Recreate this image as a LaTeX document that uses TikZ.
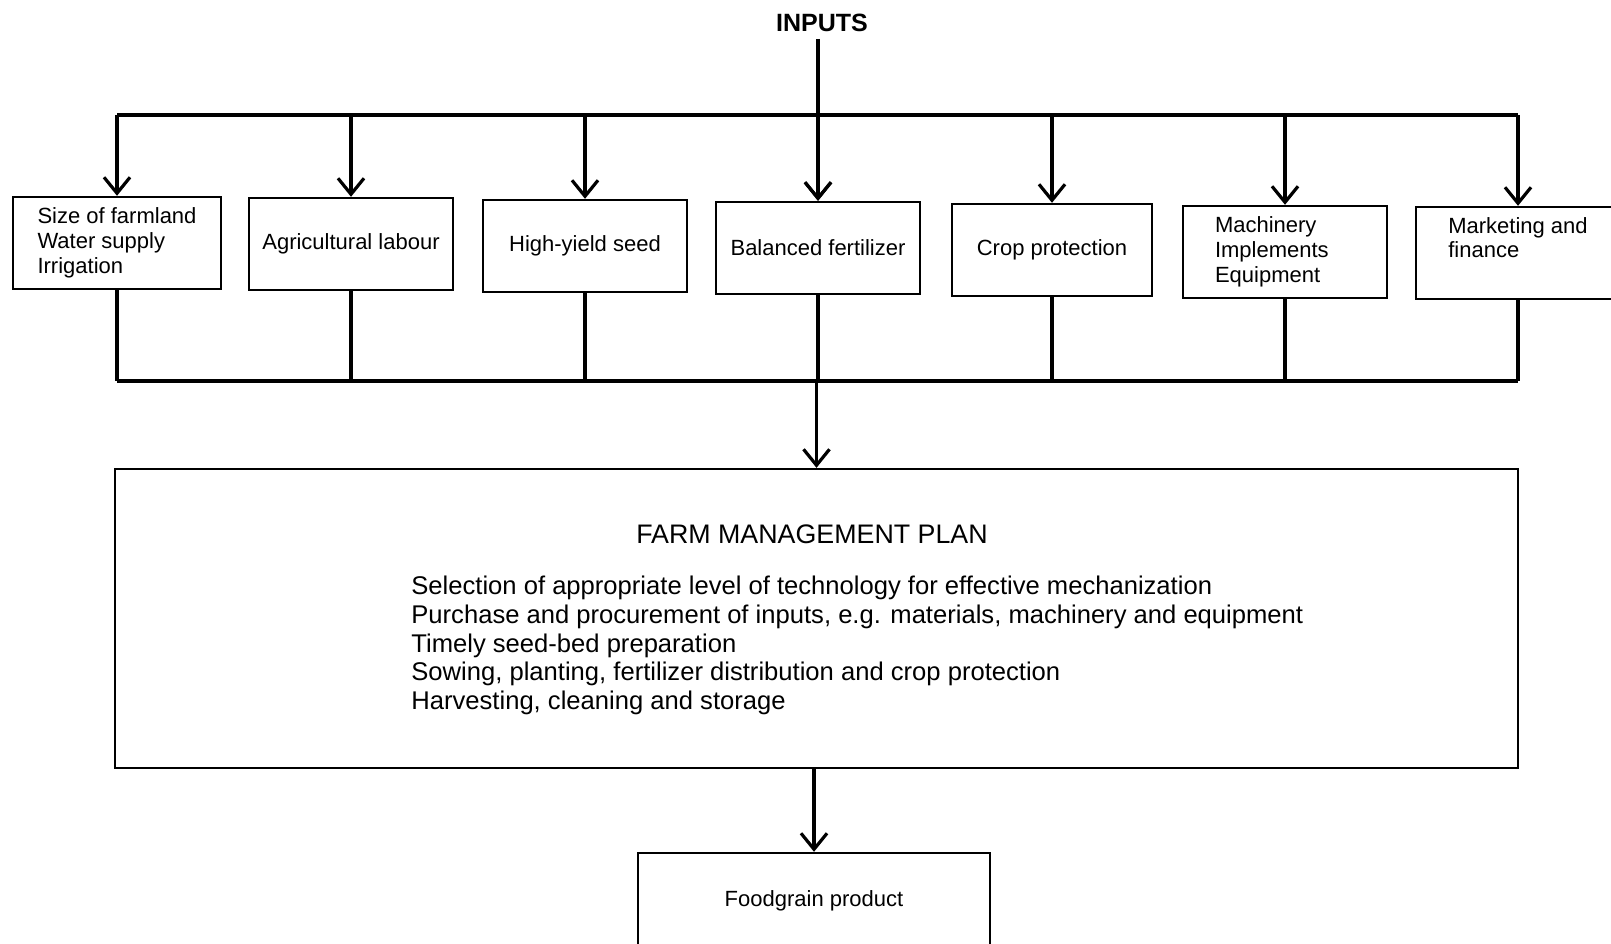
\documentclass[tikz,border=0pt]{standalone}
\usepackage{fontspec}
\setmainfont{Liberation Sans}
\usetikzlibrary{arrows.meta}

\tikzset{
    inbox/.style={draw, line width=1.2pt, minimum width=102pt, minimum height=46pt,
        align=left, font=\fontsize{11}{12.4}\selectfont},
    bus/.style={line width=1.6pt},
    arr/.style={line width=1.6pt, -{Straight Barb[length=8pt,width=13pt,line width=1.6pt]}}
}

\begin{document}
\begin{tikzpicture}[x=0.5pt,y=-0.5pt]
    \useasboundingbox (0,0) rectangle (1611,943);

    \node[font=\bfseries\fontsize{12.5}{14}\selectfont] (inputs) at (822,23) {INPUTS};

    \node[inbox, minimum width=104pt] (size) at (117,243) {Size of farmland\\Water supply\\Irrigation};
    \node[inbox] (labour) at (351,244) {Agricultural labour};
    \node[inbox] (seed) at (585,246) {High-yield seed};
    \node[inbox] (fert) at (818,248) {Balanced fertilizer};
    \node[inbox, minimum width=100pt] (crop) at (1052,250) {Crop protection};
    \node[inbox, inner xsep=15pt, text width=70pt] (mach) at (1285,252) {Machinery\\Implements\\Equipment};
    \node[inbox] (market) at (1518,253) {Marketing and\\finance\\[3pt]};

    \coordinate (topbus) at (0,115);
    \coordinate (botbus) at (0,381);

    \draw[arr] (inputs.south -| fert.north) -- (fert.north);
    \draw[bus] (size.north |- topbus) -- (market.north |- topbus);
    \draw[bus] (size.south |- botbus) -- (market.south |- botbus);
    \foreach \b in {size,labour,seed,fert,crop,mach,market} {
        \draw[arr] (\b.north |- topbus) -- (\b.north);
        \draw[bus] (\b.south) -- (\b.south |- botbus);
    }

    \node[draw, line width=1.2pt, minimum width=701.5pt, minimum height=149.5pt] (plan) at (816.5,618.5) {};
    \node[font=\fontsize{13.4}{15}\selectfont] (title) at (812,534) {FARM MANAGEMENT PLAN};
    \node[anchor=west, align=left, inner sep=0pt, font=\fontsize{12.8}{14.4}\selectfont] (steps) at (411,645.5)
        {Selection of appropriate level of technology for effective mechanization\\
         Purchase and procurement of inputs, e.g. materials, machinery and equipment\\
         Timely seed-bed preparation\\
         Sowing, planting, fertilizer distribution and crop protection\\
         Harvesting, cleaning and storage};

    \draw[arr] (plan.north |- botbus) -- (plan.north);

    \node[draw, line width=1.2pt, minimum width=176pt, minimum height=48pt,
        font=\fontsize{11}{13}\selectfont] (food) at (814,901) {Foodgrain product};
    \draw[arr] (food |- plan.south) -- (food.north);
\end{tikzpicture}
\end{document}
